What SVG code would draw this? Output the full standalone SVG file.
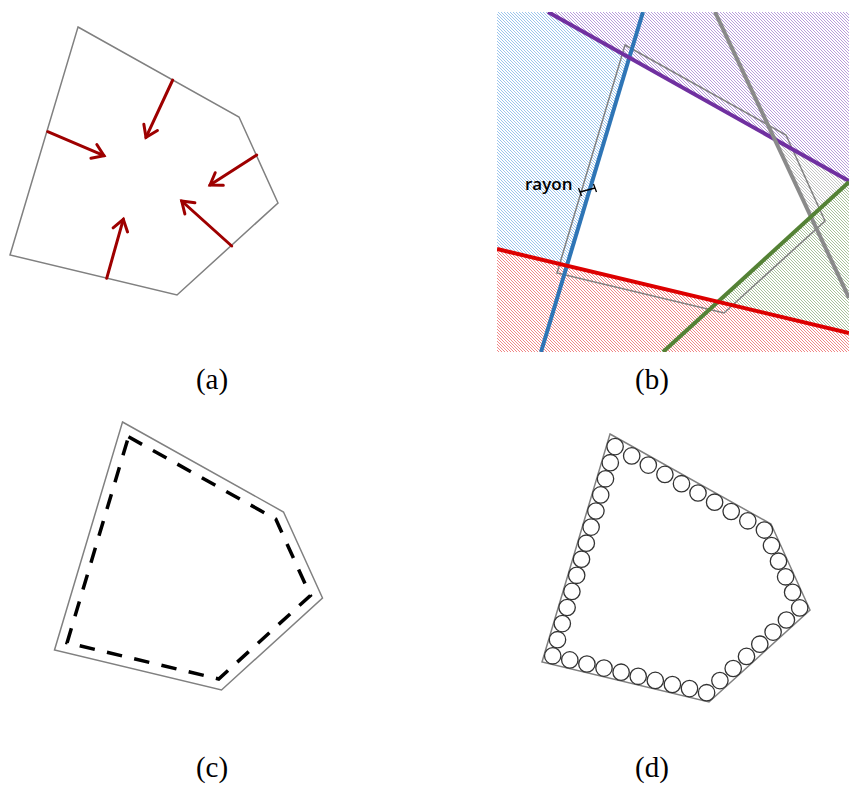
<svg xmlns="http://www.w3.org/2000/svg" width="849" height="785" viewBox="0 0 849 785">
<style>
.poly{fill:none;stroke:#808080;stroke-width:1.5;stroke-linejoin:miter}
.arrow{fill:none;stroke:#9e0000;stroke-width:3;stroke-linecap:round}
.lbl{font-family:"Liberation Serif","DejaVu Serif",serif;font-size:29px;fill:#000;text-anchor:middle}
.circ{fill:#fff;stroke:#333;stroke-width:1.3}
.thick{fill:none;stroke-width:4;stroke-linecap:butt}
.hl{stroke-width:1;stroke-opacity:0.6}
</style>
<defs>
<marker id="ah" markerUnits="userSpaceOnUse" markerWidth="30" markerHeight="30" viewBox="-15 -15 30 30" refX="0" refY="0" orient="auto">
<path d="M-11,-7.5 L0,0 L-11,7.5" fill="none" stroke="#9e0000" stroke-width="3" stroke-linecap="round" stroke-linejoin="miter"/>
</marker>
<pattern id="hBlue" patternUnits="userSpaceOnUse" width="3" height="3"><rect width="3" height="3" fill="#fff"/><path class="hl" d="M0,0L3,3M-1,2L1,4M2,-1L4,1" stroke="#5a9ee0"/></pattern>
<pattern id="hPurple" patternUnits="userSpaceOnUse" width="3" height="3"><rect width="3" height="3" fill="#fff"/><path class="hl" d="M0,0L3,3M-1,2L1,4M2,-1L4,1" stroke="#8a5cc4"/></pattern>
<pattern id="hRed" patternUnits="userSpaceOnUse" width="3" height="3"><rect width="3" height="3" fill="#fff"/><path class="hl" d="M0,0L3,3M-1,2L1,4M2,-1L4,1" stroke="#e83838"/></pattern>
<pattern id="hGreen" patternUnits="userSpaceOnUse" width="3" height="3"><rect width="3" height="3" fill="#fff"/><path class="hl" d="M0,0L3,3M-1,2L1,4M2,-1L4,1" stroke="#6f9a58"/></pattern>
<pattern id="hGray" patternUnits="userSpaceOnUse" width="3" height="3"><rect width="3" height="3" fill="#fff"/><path class="hl" d="M0,0L3,3M-1,2L1,4M2,-1L4,1" stroke="#a0a0a0"/></pattern>
<clipPath id="boxB"><rect x="497" y="12" width="352" height="340"/></clipPath>
</defs>
<rect width="849" height="785" fill="#fff"/>

<!-- Panel (a) -->
<g id="panel-a">
<polygon class="poly" points="78,27 239,117 278,203 177,295 10,255"/>
<g id="normals-a">
<line class="arrow" x1="172.7" y1="80" x2="146" y2="137.3" marker-end="url(#ah)"/>
<line class="arrow" x1="47.7" y1="131.7" x2="104" y2="155.7" marker-end="url(#ah)"/>
<line class="arrow" x1="256.7" y1="155" x2="210" y2="185" marker-end="url(#ah)"/>
<line class="arrow" x1="231.7" y1="246" x2="181.7" y2="201" marker-end="url(#ah)"/>
<line class="arrow" x1="106.7" y1="278.3" x2="123.3" y2="219.3" marker-end="url(#ah)"/>
</g>
<text class="lbl" x="212" y="389">(a)</text>
</g>

<!-- Panel (b) -->
<g id="panel-b">
<g clip-path="url(#boxB)">
<rect x="497" y="12" width="352" height="340" fill="#fff"/>
<polygon fill="url(#hBlue)" points="643,12 541,352 497,352 497,12"/>
<polygon fill="url(#hGray)" points="715,12 849,298 849,12"/>
<polygon fill="url(#hGreen)" points="663,352 849,182 849,352"/>
<polygon fill="url(#hPurple)" points="548,12 849,181 849,12"/>
<polygon fill="url(#hRed)" points="497,249 849,333 849,352 497,352"/>
<polygon class="poly" points="625,45 786,135 825,221 724,313 557,273"/>
<g id="lines-b">
<line class="thick" stroke="#2e75b6" x1="643" y1="12" x2="541" y2="352"/>
<line class="thick" stroke="#7030a0" x1="548" y1="12" x2="849" y2="181"/>
<line class="thick" stroke="#8a8a8a" stroke-width="3.5" x1="715" y1="12" x2="849" y2="298"/>
<line class="thick" stroke="#548235" x1="663" y1="352" x2="849" y2="182"/>
<line class="thick" stroke="#dd0000" x1="497" y1="249" x2="849" y2="333"/>
</g>
</g>
<text x="525" y="190" font-family="'Open Sans','DejaVu Sans',sans-serif" font-size="17" font-weight="600" fill="#000">rayon</text>
<path d="M580,192 L595,188 M578.5,188 L581.5,196 M593.5,184 L596.5,192" fill="none" stroke="#000" stroke-width="1.3"/>
<text class="lbl" x="652" y="389">(b)</text>
</g>

<!-- Panel (c) -->
<g id="panel-c">
<polygon class="poly" points="122.5,422 283.5,512 322.5,598 221.5,690 54.5,650"/>
<polygon points="128.5,436.8 275.75,519.1 310.4,595.5 218.7,679 67.1,642.7" fill="none" stroke="#000" stroke-width="3.5" stroke-dasharray="15.5 12.5"/>
<text class="lbl" x="212" y="777">(c)</text>
</g>

<!-- Panel (d) -->
<g id="panel-d">
<polygon class="poly" points="610,434 771,524 810,610 709,702 542,662"/>
<g id="circles-d">
<circle class="circ" cx="615.1" cy="446.6" r="8.2"/>
<circle class="circ" cx="631.7" cy="455.9" r="8.2"/>
<circle class="circ" cx="648.3" cy="465.1" r="8.2"/>
<circle class="circ" cx="664.9" cy="474.4" r="8.2"/>
<circle class="circ" cx="681.5" cy="483.7" r="8.2"/>
<circle class="circ" cx="698.0" cy="493.0" r="8.2"/>
<circle class="circ" cx="714.6" cy="502.2" r="8.2"/>
<circle class="circ" cx="731.2" cy="511.5" r="8.2"/>
<circle class="circ" cx="747.8" cy="520.8" r="8.2"/>
<circle class="circ" cx="764.4" cy="530.05" r="8.2"/>
<circle class="circ" cx="771.5" cy="545.6" r="8.2"/>
<circle class="circ" cx="778.5" cy="561.2" r="8.2"/>
<circle class="circ" cx="785.6" cy="576.8" r="8.2"/>
<circle class="circ" cx="792.6" cy="592.3" r="8.2"/>
<circle class="circ" cx="799.7" cy="607.9" r="8.2"/>
<circle class="circ" cx="786.4" cy="620.0" r="8.2"/>
<circle class="circ" cx="773.1" cy="632.1" r="8.2"/>
<circle class="circ" cx="759.8" cy="644.2" r="8.2"/>
<circle class="circ" cx="746.5" cy="656.4" r="8.2"/>
<circle class="circ" cx="733.2" cy="668.5" r="8.2"/>
<circle class="circ" cx="719.9" cy="680.6" r="8.2"/>
<circle class="circ" cx="706.6" cy="692.7" r="8.2"/>
<circle class="circ" cx="689.5" cy="688.6" r="8.2"/>
<circle class="circ" cx="672.4" cy="684.5" r="8.2"/>
<circle class="circ" cx="655.3" cy="680.4" r="8.2"/>
<circle class="circ" cx="638.2" cy="676.3" r="8.2"/>
<circle class="circ" cx="621.1" cy="672.2" r="8.2"/>
<circle class="circ" cx="604.0" cy="668.1" r="8.2"/>
<circle class="circ" cx="586.9" cy="664.0" r="8.2"/>
<circle class="circ" cx="569.8" cy="659.9" r="8.2"/>
<circle class="circ" cx="552.7" cy="655.8" r="8.2"/>
<circle class="circ" cx="557.5" cy="639.7" r="8.2"/>
<circle class="circ" cx="562.3" cy="623.6" r="8.2"/>
<circle class="circ" cx="567.1" cy="607.5" r="8.2"/>
<circle class="circ" cx="571.9" cy="591.4" r="8.2"/>
<circle class="circ" cx="576.7" cy="575.3" r="8.2"/>
<circle class="circ" cx="581.5" cy="559.2" r="8.2"/>
<circle class="circ" cx="586.3" cy="543.2" r="8.2"/>
<circle class="circ" cx="591.1" cy="527.1" r="8.2"/>
<circle class="circ" cx="595.9" cy="511.0" r="8.2"/>
<circle class="circ" cx="600.7" cy="494.9" r="8.2"/>
<circle class="circ" cx="605.5" cy="478.8" r="8.2"/>
<circle class="circ" cx="610.3" cy="462.7" r="8.2"/>
</g>
<text class="lbl" x="652" y="777">(d)</text>
</g>
</svg>
